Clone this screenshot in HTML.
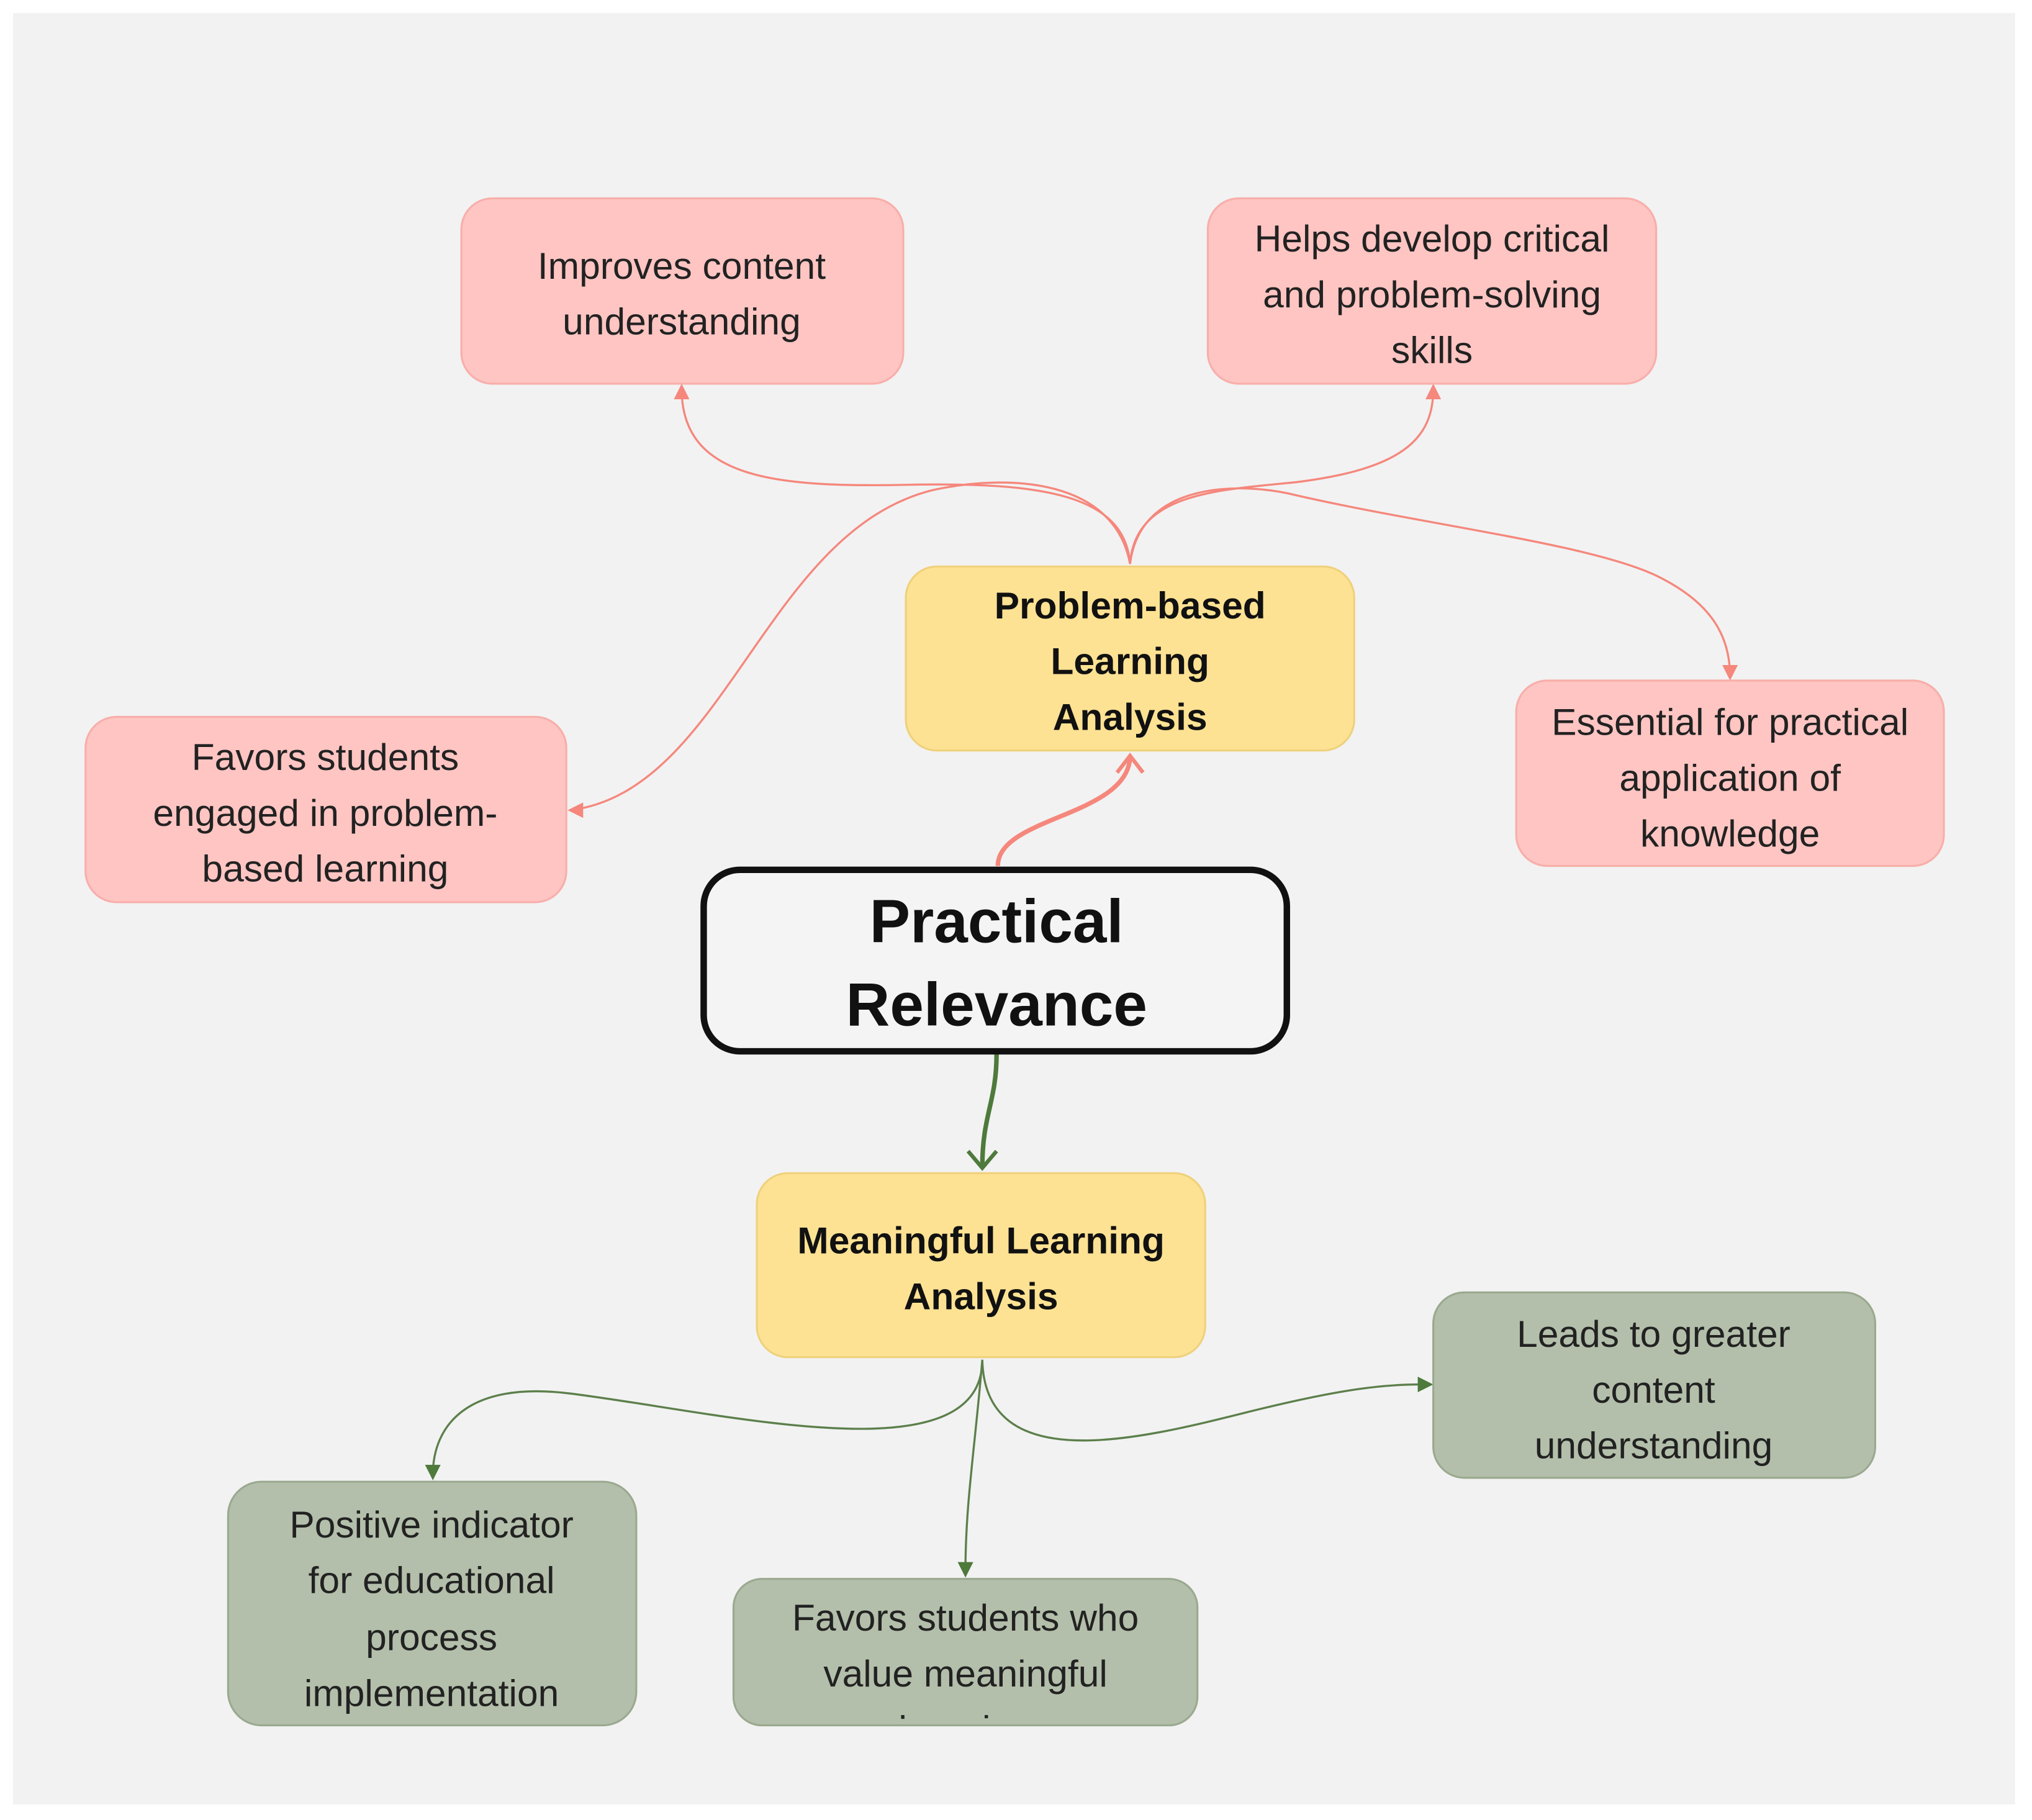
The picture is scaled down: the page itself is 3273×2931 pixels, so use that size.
<!DOCTYPE html>
<html><head><meta charset="utf-8"><style>
html,body{margin:0;padding:0;background:#fff;}
svg{display:block;}
text{font-family:"Liberation Sans",sans-serif;fill:#222;text-anchor:middle;}
.n{font-size:29px;}
.b{font-size:29px;font-weight:bold;fill:#111;}
</style></head><body>
<svg width="3273" height="2931" viewBox="0 0 1568 1404" preserveAspectRatio="none" xmlns="http://www.w3.org/2000/svg">
<defs><clipPath id="c1"><rect x="566" y="1218" width="358" height="108"/></clipPath></defs>
<rect x="0" y="0" width="1568" height="1404" fill="#fff"/>
<rect x="10" y="10" width="1545" height="1382" fill="#f2f2f2"/>

<!-- red connectors -->
<g fill="none" stroke="#f5877c" stroke-width="1.6">
<path d="M872,435 C868,380 800,372 700,374 C600,376 526,370 526,300"/>
<path d="M872,435 C876,380 940,378 1000,372 C1080,362 1106,340 1106,300"/>
<path d="M872,435 C860,370 780,365 720,378 C590,410 560,610 440,625"/>
<path d="M872,435 C880,370 960,372 1000,382 C1100,405 1230,420 1280,445 C1320,465 1335,490 1335,522"/>
</g>
<g fill="#f5877c">
<path d="M526,296 L520,308 L532,308 Z"/>
<path d="M1106,296 L1100,308 L1112,308 Z"/>
<path d="M438,625 L450,619 L450,631 Z"/>
<path d="M1335,525 L1329,513 L1341,513 Z"/>
</g>
<path d="M770,668 C770,630 870,630 872,584" fill="none" stroke="#f5877c" stroke-width="3.5"/>
<path d="M862,596 L872,583 L882,596" fill="none" stroke="#f5877c" stroke-width="3"/>

<!-- green connectors -->
<path d="M769,813 C769,850 758,860 758,900" fill="none" stroke="#4e7a3c" stroke-width="3.5"/>
<path d="M747,888 L758,901 L769,888" fill="none" stroke="#4e7a3c" stroke-width="3"/>
<g fill="none" stroke="#5c7f4b" stroke-width="1.6">
<path d="M758,1049 C758,1140 560,1090 440,1075 C360,1065 334,1100 334,1138"/>
<path d="M758,1049 C752,1120 745,1160 745,1212"/>
<path d="M758,1049 C760,1140 880,1110 960,1090 C1040,1070 1070,1068 1100,1068"/>
</g>
<g fill="#4e7a3c">
<path d="M334,1142 L328,1130 L340,1130 Z"/>
<path d="M745,1217 L739,1205 L751,1205 Z"/>
<path d="M1106,1068 L1094,1062 L1094,1074 Z"/>
</g>

<!-- pink nodes -->
<g fill="#fec5c2" stroke="#f8aeaa" stroke-width="1.5">
<rect x="356" y="153" width="341" height="143" rx="24"/>
<rect x="932" y="153" width="346" height="143" rx="24"/>
<rect x="66" y="553" width="371" height="143" rx="24"/>
<rect x="1170" y="525" width="330" height="143" rx="24"/>
</g>
<text class="n" x="526" y="215">Improves content</text>
<text class="n" x="526" y="258">understanding</text>
<text class="n" x="1105" y="194">Helps develop critical</text>
<text class="n" x="1105" y="237">and problem-solving</text>
<text class="n" x="1105" y="280">skills</text>
<text class="n" x="251" y="594">Favors students</text>
<text class="n" x="251" y="637">engaged in problem-</text>
<text class="n" x="251" y="680">based learning</text>
<text class="n" x="1335" y="567">Essential for practical</text>
<text class="n" x="1335" y="610">application of</text>
<text class="n" x="1335" y="653">knowledge</text>

<!-- yellow nodes -->
<g fill="#fde293" stroke="#efd17c" stroke-width="1.5">
<rect x="699" y="437" width="346" height="142" rx="24"/>
<rect x="584" y="905" width="346" height="142" rx="24"/>
</g>
<text class="b" x="872" y="477">Problem-based</text>
<text class="b" x="872" y="520">Learning</text>
<text class="b" x="872" y="563">Analysis</text>
<text class="b" x="757" y="967">Meaningful Learning</text>
<text class="b" x="757" y="1010">Analysis</text>

<!-- center -->
<rect x="543" y="671" width="450" height="140" rx="28" fill="#f4f4f4" stroke="#111" stroke-width="5"/>
<text x="769" y="727" style="font-size:47px;font-weight:bold;fill:#111">Practical</text>
<text x="769" y="791" style="font-size:47px;font-weight:bold;fill:#111">Relevance</text>

<!-- green nodes -->
<g fill="#b3bfaa" stroke="#9aa98f" stroke-width="1.5">
<rect x="1106" y="997" width="341" height="143" rx="24"/>
<rect x="176" y="1143" width="315" height="188" rx="26"/>
<rect x="566" y="1218" width="358" height="113" rx="22"/>
</g>
<text class="n" x="1276" y="1039">Leads to greater</text>
<text class="n" x="1276" y="1082">content</text>
<text class="n" x="1276" y="1125">understanding</text>
<text class="n" x="333" y="1186">Positive indicator</text>
<text class="n" x="333" y="1229">for educational</text>
<text class="n" x="333" y="1273">process</text>
<text class="n" x="333" y="1316">implementation</text>
<g clip-path="url(#c1)">
<text class="n" x="745" y="1258">Favors students who</text>
<text class="n" x="745" y="1301">value meaningful</text>
<text class="n" x="745" y="1344">learning</text>
</g>
</svg>
</body></html>
